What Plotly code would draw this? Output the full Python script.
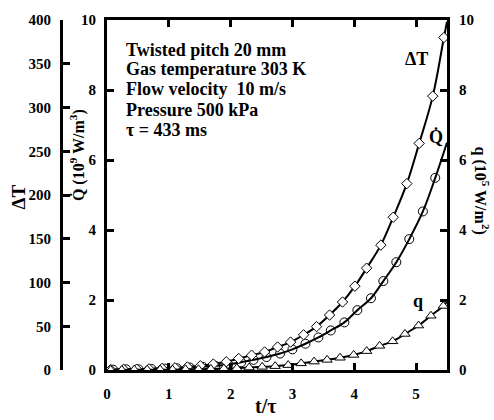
import plotly.graph_objects as go

# ---------------- data ----------------
# Delta T (diamonds), left outer axis 0-400
dT_t = [0.06, 0.27, 0.48, 0.68, 0.89, 1.10, 1.30, 1.51, 1.72, 1.93, 2.13, 2.34, 2.55, 2.76,
        2.97, 3.18, 3.39, 3.60, 3.81, 4.01, 4.20, 4.43, 4.63, 4.85, 5.05, 5.27, 5.45]
dT_v = [0.5, 0.7, 1.0, 1.3, 1.8, 2.5, 3.5, 4.8, 6.8, 9.4, 13.1, 16.9, 20.6, 26.3,
        31.9, 40.2, 49.6, 62.8, 77.7, 95.8, 116.4, 142.7, 174.6, 213, 259, 313, 380]
dT_curve_end = (5.5, 398)

# Q-dot (circles), 10^9 W/m^3, inner left axis 0-10
qd_t = [0.10, 0.31, 0.51, 0.72, 0.93, 1.13, 1.34, 1.55, 1.75, 1.96, 2.17, 2.37, 2.58, 2.80,
        3.00, 3.21, 3.42, 3.62, 3.84, 4.05, 4.27, 4.47, 4.68, 4.89, 5.11, 5.31]
qd_v = [0.01, 0.02, 0.02, 0.03, 0.04, 0.05, 0.07, 0.09, 0.12, 0.16, 0.22, 0.29, 0.37, 0.47,
        0.59, 0.75, 0.93, 1.13, 1.36, 1.71, 2.05, 2.54, 3.08, 3.74, 4.53, 5.49]
qd_curve_end = (5.5, 6.5)

# q (triangles), 10^5 W/m^2, right axis 0-10
q_t = [0.06, 0.24, 0.44, 0.65, 0.86, 1.06, 1.27, 1.48, 1.68, 1.89, 2.10, 2.30, 2.51, 2.72,
       2.93, 3.14, 3.35, 3.56, 3.77, 3.99, 4.20, 4.41, 4.62, 4.82, 5.04, 5.24, 5.44]
q_v = [0.0, 0.0, 0.01, 0.01, 0.01, 0.01, 0.02, 0.02, 0.03, 0.04, 0.05, 0.07, 0.09, 0.11,
       0.14, 0.19, 0.24, 0.29, 0.35, 0.43, 0.54, 0.69, 0.82, 1.03, 1.27, 1.55, 1.83]
q_curve_end = (5.5, 1.95)

x_ticks = [0, 1, 2, 3, 4, 5]
left_ticks = [0, 2, 4, 6, 8, 10]
dT_ticks = [0, 50, 100, 150, 200, 250, 300, 350, 400]
right_ticks = [0, 2, 4, 6, 8, 10]

info_lines = ["Twisted pitch 20 mm", "Gas temperature 303 K", "Flow velocity  10 m/s",
              "Pressure 500 kPa", "\u03c4 = 433 ms"]

# ---------------- figure ----------------
FONT = "Liberation Serif"
W, H = 494, 420
ML, MR, MT, MB = 40, 47, 15, 50
PW = W - ML - MR
PH = H - MT - MB


def px(x):
    return (x - ML) / PW


def py(y):
    return (H - MB - y) / PH


def btxt(vals):
    return ["<b>%s</b>" % v for v in vals]


fig = go.Figure()

# curves
fig.add_trace(go.Scatter(x=dT_t + [dT_curve_end[0]], y=dT_v + [dT_curve_end[1]], yaxis="y2",
                         mode="lines", line=dict(color="black", width=2, shape="spline"),
                         hoverinfo="skip", showlegend=False))
fig.add_trace(go.Scatter(x=qd_t + [qd_curve_end[0]], y=qd_v + [qd_curve_end[1]], yaxis="y",
                         mode="lines", line=dict(color="black", width=2, shape="spline"),
                         hoverinfo="skip", showlegend=False))
fig.add_trace(go.Scatter(x=q_t + [q_curve_end[0]], y=q_v + [q_curve_end[1]], yaxis="y3",
                         mode="lines", line=dict(color="black", width=2, shape="spline"),
                         hoverinfo="skip", showlegend=False))
# markers
fig.add_trace(go.Scatter(x=dT_t, y=dT_v, yaxis="y2", mode="markers",
                         marker=dict(symbol="diamond", size=8, color="white",
                                     line=dict(color="black", width=1)), showlegend=False))
fig.add_trace(go.Scatter(x=qd_t, y=qd_v, yaxis="y", mode="markers",
                         marker=dict(symbol="circle-open", size=9, color="black",
                                     line=dict(color="black", width=1)), showlegend=False))
fig.add_trace(go.Scatter(x=q_t, y=q_v, yaxis="y3", mode="markers",
                         marker=dict(symbol="triangle-up", size=9, color="white",
                                     line=dict(color="black", width=1)), showlegend=False))

tickfont = dict(family=FONT, size=15, color="black", weight="bold")
common = dict(showgrid=False, zeroline=False, showline=True, linecolor="black", linewidth=3,
              ticks="inside", ticklen=7, tickwidth=3, tickcolor="black", tickfont=tickfont)

fig.update_layout(
    width=W, height=H,
    margin=dict(l=ML, r=MR, t=MT, b=MB),
    paper_bgcolor="white", plot_bgcolor="white",
    font=dict(family=FONT, color="black"),
    showlegend=False,
    xaxis=dict(domain=[px(107), 1], range=[0, 5.5], tickvals=x_ticks, ticktext=btxt(x_ticks),
               mirror="ticks", ticklabelstandoff=8, **common),
    yaxis=dict(range=[0, 10], tickvals=left_ticks, ticktext=btxt(left_ticks), anchor="x",
               ticklabelstandoff=5, **common),
    yaxis2=dict(range=[0, 400], tickvals=dT_ticks, ticktext=btxt(dT_ticks), overlaying="y",
                anchor="free", position=px(61), side="left", ticklabelstandoff=6, **common),
    yaxis3=dict(range=[0, 10], tickvals=right_ticks, ticktext=btxt(right_ticks), overlaying="y",
                anchor="x", side="right", ticklabelstandoff=6, **common),
)

ann = []
bold = dict(family=FONT, color="black", weight="bold")


def add(x, y, text, size, angle=0, xanchor="center"):
    ann.append(dict(x=px(x), y=py(y), xref="paper", yref="paper", text=text, textangle=angle,
                    xanchor=xanchor, yanchor="middle", showarrow=False,
                    font=dict(size=size, **bold)))


add(18, 195, "\u0394T", 19, -90)
add(77, 152, "Q\u0307 (10<sup>9</sup> W/m<sup>3</sup>)", 16, -90)
add(481, 188, "q (10<sup>5</sup> W/m<sup>2</sup>)", 16, 90)
add(265, 407, "t/\u03c4", 20)
ys = [45, 65, 85, 106, 127]
for line, yy in zip(info_lines, ys):
    add(124, yy, line, 18, 0, "left")
add(416, 55, "\u0394T", 18)
add(436, 134, "Q\u0307", 18)
add(418, 300, "q", 18)
fig.update_layout(annotations=ann)

fig.write_html("out.html", config={"displayModeBar": False},
               post_script="document.body.style.margin='0';")
